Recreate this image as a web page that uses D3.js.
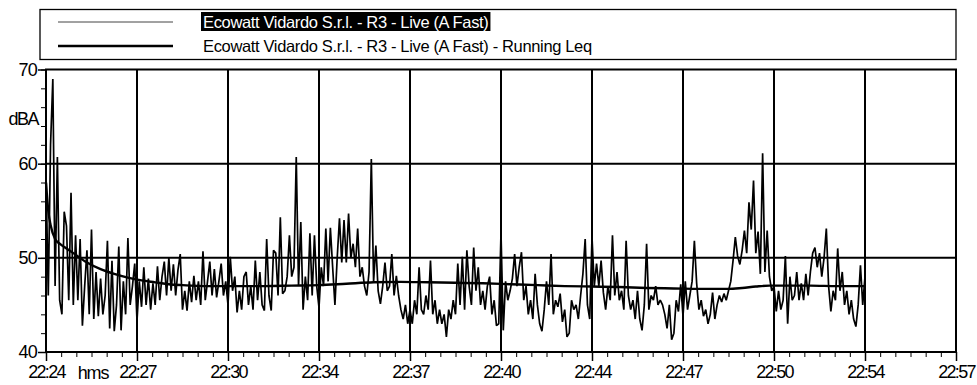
<!DOCTYPE html>
<html>
<head>
<meta charset="utf-8">
<script src="https://cdn.jsdelivr.net/npm/d3@7/dist/d3.min.js"></script>
<style>
  body { margin: 0; background: #fff; }
  svg { display: block; font-family: "Liberation Sans", Arial, sans-serif; }
</style>
</head>
<body>
<svg width="977" height="385"></svg>
<script>
// series names shown in the legend
const seriesNames = [
  'Ecowatt Vidardo S.r.l. - R3 - Live (A Fast)',
  'Ecowatt Vidardo S.r.l. - R3 - Live (A Fast) - Running Leq'
];

// live level, one reading every 5 s from 22:24:00 to 22:54:00 (dBA)
const sampleStep = 5;
const liveLevels = [
  59, 46, 62, 69, 47, 60.7, 45.5, 44, 54.9, 53.4,
  45.5, 56.9, 45, 52.4, 45.5, 52, 42.8, 47, 50.8, 44,
  53, 43.5, 48.5, 43.8, 47.8, 44, 46, 51.8, 42.5, 49.7,
  42.2, 45, 51.2, 42.3, 47.5, 44, 52.1, 45, 47, 49.4,
  43.3, 47.5, 44.8, 49, 45, 47.8, 44.5, 47.3, 45, 49.1,
  45.5, 48, 49.6, 46, 50, 46.5, 49.3, 46, 48.7, 50.4,
  44.5, 46.5, 44.4, 47.5, 45.3, 48.1, 45.5, 47.5, 45, 50.7,
  45.5, 47.5, 49.6, 46, 48.8, 45.8, 47.5, 49.4, 46, 47.5,
  45, 50.1, 46.5, 48, 44.2, 46.5, 44.5, 48, 48.5, 45,
  47, 44.5, 49.7, 45.5, 48.5, 45, 44.4, 52, 46, 44.4,
  50.8, 50.5, 46, 54.3, 46.2, 46.5, 48, 52.4, 48, 49,
  60.7, 47, 53.8, 44.5, 48, 45.5, 52.6, 46, 52.4, 47,
  44.7, 49, 47, 53.1, 47.5, 53.2, 49, 45, 50, 54.2,
  49.5, 54, 49.5, 54.7, 50, 51.5, 49, 53.1, 48, 49,
  47, 46, 48.5, 60.5, 47.5, 51.3, 46.5, 45.1, 47, 49.5,
  46.5, 47, 50.4, 46, 48.1, 46, 44.5, 43.5, 45, 43,
  44.5, 43, 45.5, 44, 49, 44.5, 44, 46, 44.5, 49.7,
  44, 45.5, 43, 44.5, 43, 44, 41.6, 44.5, 43.5, 45.5,
  44, 49.4, 45, 50.1, 44.5, 50.8, 47, 45, 51.1, 46.5,
  49, 45, 46.5, 44.5, 47, 48, 44, 45.5, 42.8, 43,
  52.7, 42.3, 47.5, 45.5, 46.5, 47.8, 50.4, 47, 49, 50.6,
  45.5, 47, 44, 45.5, 43.5, 48.3, 45, 43, 42.2, 44.5,
  47.5, 45, 50.4, 44, 45.5, 44.8, 46.2, 43.2, 44.5, 41.6,
  42, 45.5, 44.5, 45, 43.5, 46, 48.3, 52, 45, 43.5,
  52.2, 47, 49.4, 47, 49.7, 46.3, 44.5, 47, 45.5, 52.4,
  46, 48.5, 45.5, 46.5, 44.5, 51.8, 46, 44.5, 45.5, 43.5,
  46.5, 43.5, 42.3, 45, 51.5, 44.5, 46, 45.5, 47, 45,
  45.5, 45, 44, 42.5, 45, 41.3, 42, 45.5, 44.3, 47.2,
  43.8, 47.5, 44.5, 46, 47.5, 51.8, 47.3, 44.5, 45.5, 43.8,
  44.5, 43, 44, 46.3, 43.5, 45, 46, 45.3, 46.2, 45.5,
  46.5, 47.5, 49.7, 52.2, 50.2, 49.3, 50.8, 52.9, 50.5, 55.9,
  53, 58.2, 50.5, 52.8, 48.3, 61.1, 48.5, 52.9, 48, 46.5,
  47, 44.3, 46.5, 44.5, 45.5, 50.2, 43, 48, 45.5, 46,
  48.5, 45.5, 47.3, 45.5, 48.3, 46, 48.5, 50.5, 51.1, 49,
  50.5, 48, 50, 53.1, 47, 44.3, 46.5, 45.5, 51, 46.5,
  48.5, 45, 46.5, 44, 45.5, 43.5, 42.7, 45, 49.2, 45,
  48
];

// running Leq, seconds after 22:24:00 and level (dBA)
const leqSeconds = [0, 5, 10, 20, 30, 45, 60, 90, 120, 150, 180, 210, 240, 270, 300, 360, 420,
  480, 540, 600, 660, 720, 780, 840, 900, 960, 1020, 1080, 1140, 1200, 1260, 1320, 1380,
  1440, 1500, 1530, 1560, 1590, 1620, 1680, 1740, 1800];
const leqLevels = [58, 55, 53.5, 52, 51.5, 51, 50.5, 49.5, 48.8, 48.3, 47.9, 47.6, 47.4, 47.2, 47.1, 47, 47,
  47, 47.05, 47.1, 47.25, 47.4, 47.45, 47.4, 47.35, 47.3, 47.2, 47.1, 47, 46.95, 46.9, 46.8, 46.75,
  46.7, 46.7, 46.8, 46.95, 47.05, 47.05, 47.05, 47, 47];

// axis ticks
const timeTicks = [0, 200, 400, 600, 800, 1000, 1200, 1400, 1600, 1800, 2000];
const timeLabels = ['22:24', '22:27', '22:30', '22:34', '22:37', '22:40', '22:44', '22:47', '22:50', '22:54', '22:57'];
const levelTicks = [40, 50, 60, 70];

let svg = d3.select('svg');

let x = d3.scaleLinear().domain([0, 2000]).range([46, 956]);
let y = d3.scaleLinear().domain([40, 70]).range([352, 69.5]);

// legend
let legend = svg.append('g');
legend.append('rect')
  .attr('x', 40).attr('y', 9.5)
  .attr('width', 916).attr('height', 50)
  .attr('fill', 'none').attr('stroke', '#000').attr('stroke-width', 1.3);

[0, 1].forEach(i => {
  let cy = 22 + i * 24;
  legend.append('line')
    .attr('x1', 58).attr('x2', 173)
    .attr('y1', cy).attr('y2', cy)
    .attr('stroke', i == 0 ? '#444' : '#000')
    .attr('stroke-width', i == 0 ? 1 : 2.4);
  let t = legend.append('text')
    .attr('x', 203).attr('y', cy + 6)
    .attr('font-size', 16.5)
    .attr('letter-spacing', -0.35)
    .attr('fill', i == 0 ? '#fff' : '#000')
    .text(seriesNames[i]);
  if (i == 0) {
    let w = t.node().getComputedTextLength();
    legend.insert('rect', 'text')
      .attr('x', 201).attr('y', cy - 10)
      .attr('width', w + 4).attr('height', 19)
      .attr('fill', '#000');
  }
});

// grid
let grid = svg.append('g').attr('stroke', '#000').attr('stroke-width', 2);
grid.selectAll('.vgrid')
  .data(timeTicks.slice(1, -1))
  .enter().append('line')
  .attr('x1', d => x(d)).attr('x2', d => x(d))
  .attr('y1', y(70)).attr('y2', y(40));
grid.selectAll('.hgrid')
  .data([50, 60])
  .enter().append('line')
  .attr('x1', x(0)).attr('x2', x(2000))
  .attr('y1', d => y(d)).attr('y2', d => y(d));

// live data and running leq
let plot = svg.append('g');
plot.append('path')
  .datum(liveLevels)
  .attr('fill', 'none').attr('stroke', '#000').attr('stroke-width', 1.7)
  .attr('stroke-linejoin', 'bevel')
  .attr('d', d3.line().x((d, i) => x(i * sampleStep)).y(d => y(d)));
plot.append('path')
  .datum(leqLevels)
  .attr('fill', 'none').attr('stroke', '#000').attr('stroke-width', 2.4)
  .attr('d', d3.line().curve(d3.curveMonotoneX).x((d, i) => x(leqSeconds[i])).y(d => y(d)));

// frame
svg.append('rect')
  .attr('x', x(0)).attr('y', y(70))
  .attr('width', x(2000) - x(0)).attr('height', y(40) - y(70))
  .attr('fill', 'none').attr('stroke', '#000').attr('stroke-width', 2);

// x axis
let xMinor = d3.range(0, 2001, 200 / 6);
svg.append('g')
  .attr('transform', `translate(0,${y(40)})`)
  .call(d3.axisBottom(x).tickValues(xMinor).tickSize(5).tickFormat(''))
  .call(g => g.select('.domain').remove());
svg.append('g')
  .attr('transform', `translate(0,${y(40)})`)
  .call(d3.axisBottom(x).tickValues(timeTicks).tickSize(9).tickPadding(4)
    .tickFormat((d, i) => timeLabels[i]))
  .call(g => g.select('.domain').remove())
  .call(g => g.selectAll('line').attr('stroke-width', 1.5))
  .call(g => g.selectAll('text')
    .attr('font-size', 18).attr('letter-spacing', -1.7)
    .attr('fill', '#000').attr('font-family', null));

// y axis
svg.append('g')
  .attr('transform', `translate(${x(0)},0)`)
  .call(d3.axisLeft(y).tickValues(d3.range(40, 71, 2)).tickSize(5).tickFormat(''))
  .call(g => g.select('.domain').remove());
svg.append('g')
  .attr('transform', `translate(${x(0)},0)`)
  .call(d3.axisLeft(y).tickValues(levelTicks).tickSize(8).tickPadding(1))
  .call(g => g.select('.domain').remove())
  .call(g => g.selectAll('line').attr('stroke-width', 1.5))
  .call(g => g.selectAll('text')
    .attr('font-size', 18).attr('letter-spacing', -0.8)
    .attr('fill', '#000').attr('font-family', null));

// unit labels
svg.append('text')
  .attr('x', 38).attr('y', 125)
  .attr('text-anchor', 'end')
  .attr('font-size', 18).attr('letter-spacing', -1.5)
  .text('dBA');
svg.append('text')
  .attr('x', 93).attr('y', 379)
  .attr('text-anchor', 'middle')
  .attr('font-size', 18).attr('letter-spacing', -1.2)
  .text('hms');
</script>
</body>
</html>
